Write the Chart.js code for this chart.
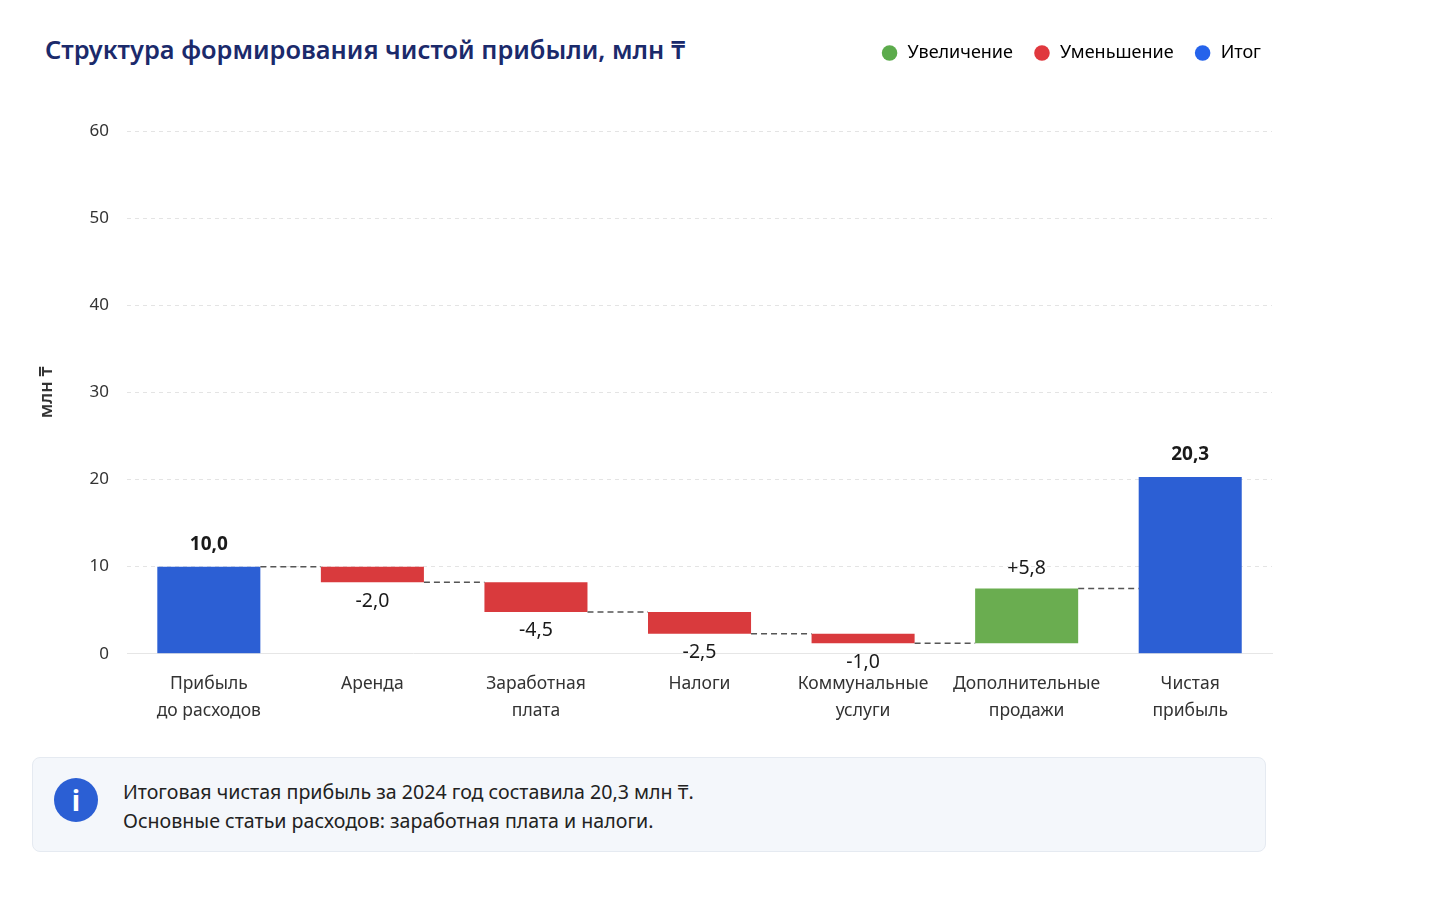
<!DOCTYPE html>
<html lang="ru">
<head>
<meta charset="utf-8">
<title>Структура формирования чистой прибыли</title>
<script src="https://cdn.jsdelivr.net/npm/chart.js@4.4.1/dist/chart.umd.min.js"></script>
<style>
  html, body { margin: 0; padding: 0; background: #fff; }
  body { width: 1430px; height: 912px; position: relative; overflow: hidden; font-family: "Noto Sans", sans-serif; }
  #title { position: absolute; left: 45px; top: 32px; font-size: 25.4px; font-weight: 600; color: #1b2a6b; }
  #chartWrap { position: absolute; left: 0; top: 24px; width: 1300px; height: 710px; }
  #note { position: absolute; left: 32px; top: 757px; width: 1234px; height: 95px; background: #f4f7fb; border: 1px solid #e5eaf1; border-radius: 8px; box-sizing: border-box; }
  #note .icon { position: absolute; left: 21px; top: 20px; width: 44px; height: 44px; border-radius: 50%; background: #2b5fd4; color: #fff; font: 700 28px "Noto Sans", sans-serif; text-align: center; line-height: 44px; }
  #note .text { position: absolute; left: 90px; top: 19px; font-size: 19.6px; line-height: 29px; color: #222; }
</style>
</head>
<body>
<div id="title">Структура формирования чистой прибыли, млн ₸</div>
<div id="chartWrap"><canvas id="waterfallChart"></canvas></div>
<div id="note">
  <div class="icon">i</div>
  <div class="text">Итоговая чистая прибыль за 2024 год составила 20,3 млн ₸.<br>Основные статьи расходов: заработная плата и налоги.</div>
</div>
<script>
// Data
const categories = [['Прибыль', 'до расходов'], 'Аренда', ['Заработная', 'плата'], 'Налоги', ['Коммунальные', 'услуги'], ['Дополнительные', 'продажи'], ['Чистая', 'прибыль']];
const barStart = [0, 10, 8.2, 4.8, 2.3, 1.2, 0];
const barEnd = [10, 8.2, 4.8, 2.3, 1.2, 7.5, 20.3];
const valueLabels = ['10,0', '-2,0', '-4,5', '-2,5', '-1,0', '+5,8', '20,3'];
const barKinds = ['total', 'dec', 'dec', 'dec', 'dec', 'inc', 'total'];
const legendNames = ['Увеличение', 'Уменьшение', 'Итог'];
const yMax = 60;
const yStep = 10;

const kindColors = { inc: '#6aad50', dec: '#d93a3d', total: '#2c5fd4' };
const legendColors = ['#5cab4c', '#e0383e', '#2563eb'];

// connectors + value labels
const waterfallExtras = {
    id: 'waterfallExtras',
    afterDatasetsDraw(chart) {
        const ctx = chart.ctx;
        const meta = chart.getDatasetMeta(0);
        const y = chart.scales.y;
        ctx.save();
        // dashed connectors
        ctx.strokeStyle = '#555';
        ctx.lineWidth = 1.5;
        ctx.setLineDash([6, 4]);
        for (let i = 0; i < meta.data.length - 1; i++) {
            const a = meta.data[i], b = meta.data[i + 1];
            const yy = y.getPixelForValue(barEnd[i]);
            ctx.beginPath();
            ctx.moveTo(a.x + a.width / 2, yy);
            ctx.lineTo(b.x - b.width / 2, yy);
            ctx.stroke();
        }
        ctx.setLineDash([]);
        // labels
        ctx.textAlign = 'center';
        ctx.textBaseline = 'middle';
        ctx.fillStyle = '#1a1a1a';
        meta.data.forEach((bar, i) => {
            const top = y.getPixelForValue(Math.max(barStart[i], barEnd[i]));
            const bottom = y.getPixelForValue(Math.min(barStart[i], barEnd[i]));
            if (barKinds[i] === 'total') {
                ctx.font = '700 19px "Noto Sans"';
                ctx.fillText(valueLabels[i], bar.x, top - 22);
            } else if (barKinds[i] === 'inc') {
                ctx.font = '19.5px "Noto Sans"';
                ctx.fillText(valueLabels[i], bar.x, top - 20);
            } else {
                ctx.font = '19.5px "Noto Sans"';
                ctx.fillText(valueLabels[i], bar.x, bottom + 19);
            }
        });
        ctx.restore();
    }
};

// extra gap under the legend, and nudge it right
const legendGap = {
    id: 'legendGap',
    beforeInit(chart) {
        const lg = chart.legend;
        const fit = lg.fit;
        lg.fit = function () {
            fit.bind(lg)();
            this.height += 59;
        };
        const draw = lg.draw;
        lg.draw = function () {
            chart.ctx.save();
            chart.ctx.translate(9, 0);
            draw.bind(lg)();
            chart.ctx.restore();
        };
    }
};

new Chart(document.getElementById('waterfallChart'), {
    type: 'bar',
    data: {
        labels: categories,
        datasets: [{
            data: barStart.map((s, i) => [s, barEnd[i]]),
            backgroundColor: barKinds.map(k => kindColors[k]),
            borderWidth: 0,
            barPercentage: 0.63,
            categoryPercentage: 1
        }]
    },
    options: {
        responsive: true,
        maintainAspectRatio: false,
        animation: false,
        layout: { padding: { left: 32, right: 28, top: 0, bottom: 0 } },
        plugins: {
            tooltip: { enabled: false },
            legend: {
                position: 'top',
                align: 'end',
                onClick: null,
                labels: {
                    usePointStyle: true,
                    pointStyle: 'circle',
                    boxWidth: 19,
                    boxHeight: 11,
                    padding: 20,
                    color: '#333',
                    font: { family: 'Noto Sans', size: 18 },
                    generateLabels: () => legendNames.map((n, i) => ({
                        text: n,
                        fillStyle: legendColors[i],
                        strokeStyle: legendColors[i],
                        lineWidth: 0,
                        pointStyle: 'circle',
                        hidden: false
                    }))
                }
            }
        },
        scales: {
            x: {
                grid: { display: false },
                border: { display: true, color: '#e6e6e6' },
                ticks: { color: '#333', padding: 9, font: { family: 'Noto Sans', size: 17.5, lineHeight: 1.55 } }
            },
            y: {
                min: 0,
                max: yMax,
                border: { display: false, dash: [4, 4] },
                grid: { color: '#e4e4e4', drawTicks: false },
                ticks: { stepSize: yStep, color: '#333', padding: 18, font: { family: 'Noto Sans', size: 17 } },
                title: { display: true, text: 'млн ₸', color: '#333', padding: { bottom: 14 }, font: { family: 'Noto Sans', size: 18, weight: '600' } }
            }
        }
    },
    plugins: [waterfallExtras, legendGap]
});
</script>
</body>
</html>
